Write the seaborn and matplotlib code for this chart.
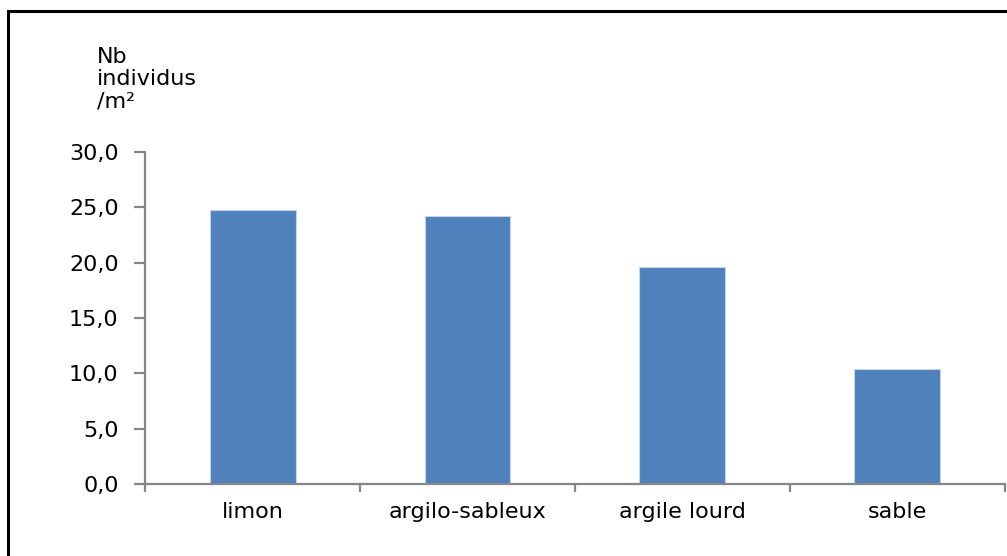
import matplotlib
matplotlib.use('Agg')
import matplotlib.pyplot as plt
import seaborn as sns
import pandas as pd
from matplotlib.patches import Rectangle
from matplotlib.ticker import FixedLocator

# ── Data ──────────────────────────────────────────────────────
sols    = ['limon', 'argilo-sableux', 'argile lourd', 'sable']
densite = [24.8, 24.2, 19.6, 10.4]
yticks  = [0, 5, 10, 15, 20, 25, 30]
ylabels = ['0,0', '5,0', '10,0', '15,0', '20,0', '25,0', '30,0']

df = pd.DataFrame({'sol': sols, 'densite': densite})

sns.set_style('white')
plt.rcParams['font.family'] = ['DejaVu Sans']
plt.rcParams['text.color'] = 'black'

fig = plt.figure(figsize=(10.07, 5.56), dpi=100)
ax = fig.add_axes([0.144, 0.1295, 0.854, 0.5971])

sns.barplot(data=df, x='sol', y='densite', color='#4f81bd', width=0.4,
            saturation=1, edgecolor='#c6d4ea', linewidth=0.8, ax=ax)

axis_col = '#868686'
fs = 16
ax.set_ylim(0, 30)
ax.set_xlim(-0.5, 3.5)
ax.set_yticks(yticks)
ax.set_yticklabels(ylabels, fontsize=fs, color='black')
ax.set_xticks(range(len(sols)))
ax.set_xticklabels(sols, fontsize=fs, color='black')
ax.xaxis.set_minor_locator(FixedLocator([-0.5, 0.5, 1.5, 2.5, 3.5]))
ax.tick_params(axis='x', which='major', bottom=True, length=0, pad=13)
ax.tick_params(axis='x', which='minor', bottom=True, length=6, width=1.6,
               color=axis_col, direction='out')
ax.tick_params(axis='y', left=True, length=8, width=1.6, color=axis_col,
               direction='out', pad=11)
ax.set_xlabel('')
ax.set_ylabel('')

for s in ['top', 'right']:
    ax.spines[s].set_visible(False)
for s in ['left', 'bottom']:
    ax.spines[s].set_color(axis_col)
    ax.spines[s].set_linewidth(1.6)

fig.text(97 / 1007, 1 - 47 / 556, 'Nb\nindividus\n/m²', fontsize=fs,
         ha='left', va='top', linespacing=1.15, color='black')

# outer frame
fig.patches.append(Rectangle((8 / 1007, -0.02), 1.2, 1 - 11 / 556 + 0.02,
                             transform=fig.transFigure, fill=False,
                             edgecolor='black', linewidth=2.2))

fig.savefig('out.png', dpi=100)
